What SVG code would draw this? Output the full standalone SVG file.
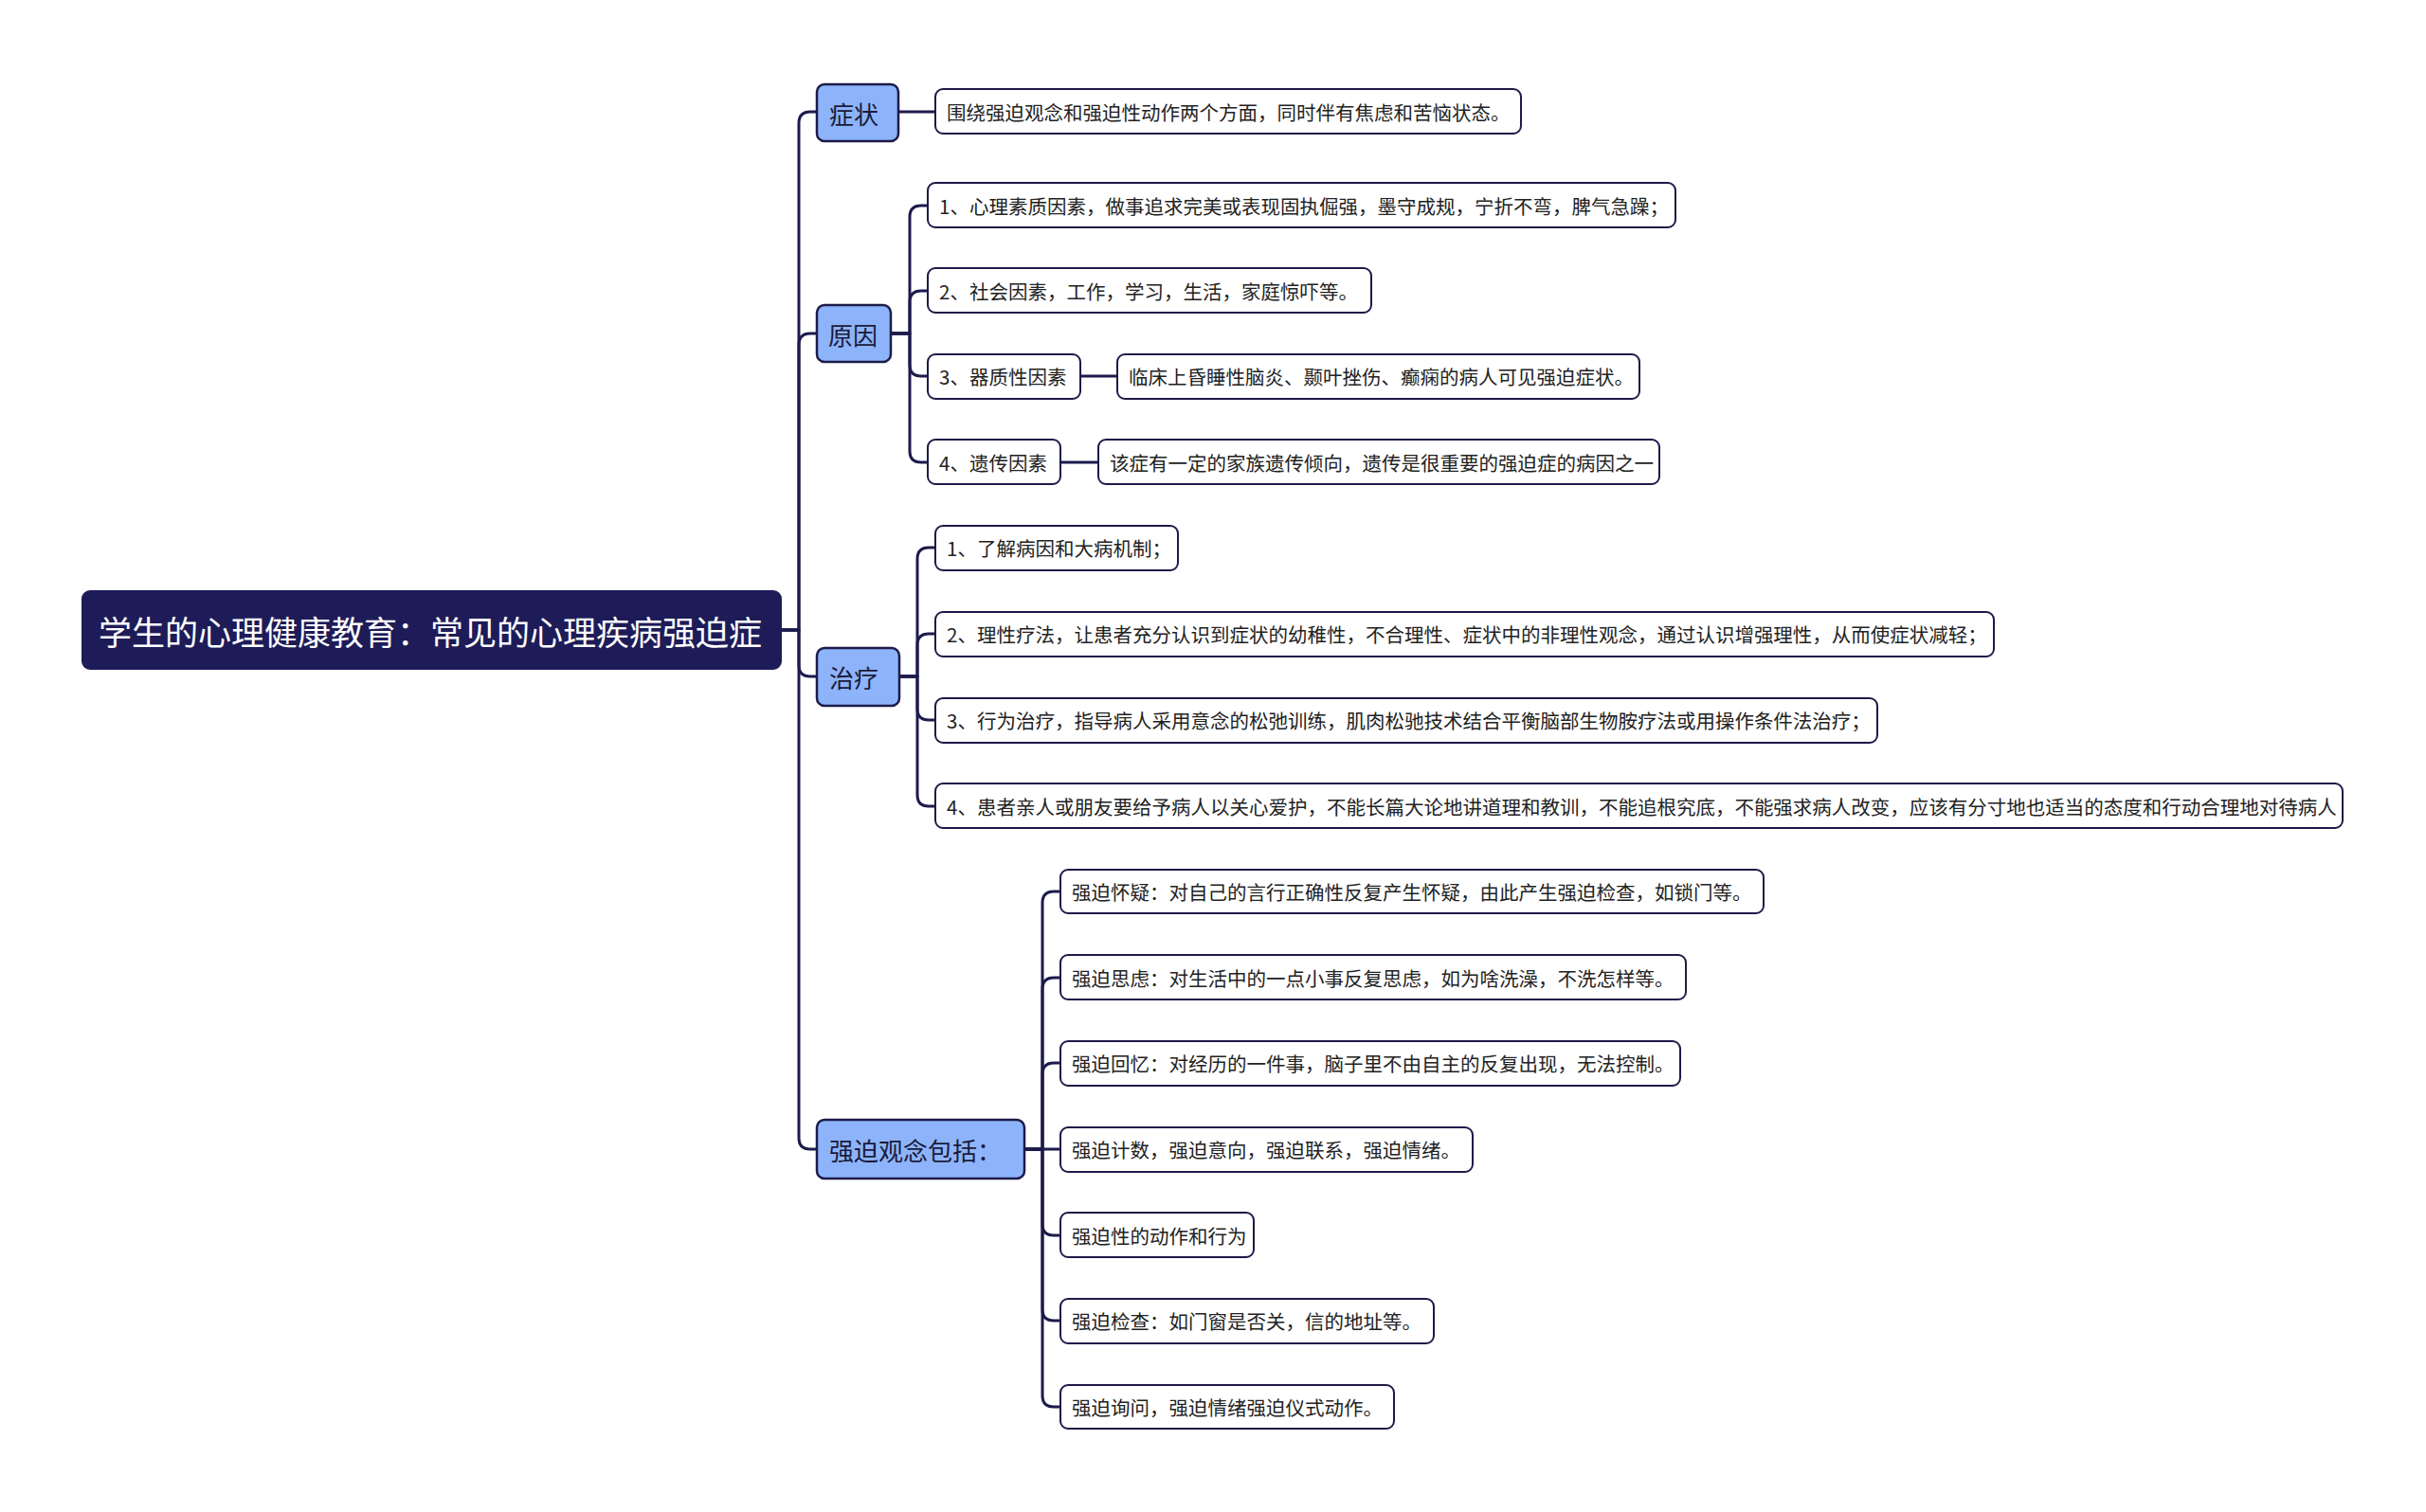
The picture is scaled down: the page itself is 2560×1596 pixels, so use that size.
<svg xmlns="http://www.w3.org/2000/svg" width="2560" height="1596" viewBox="0 0 2560 1596">
<style>
.root{fill:#1e1c58;stroke:#1e1c58;stroke-width:2}
.l1{fill:#8db4fa;stroke:#1d1b48;stroke-width:2.5}
.l2{fill:#ffffff;stroke:#1d1b48;stroke-width:2}
.c{fill:none;stroke:#1d1b4c;stroke-width:3;stroke-linecap:round;stroke-linejoin:round}
text{font-family:"Noto Sans CJK SC","Noto Sans",sans-serif;dominant-baseline:central}
.tr{fill:#ffffff;font-size:35px}
.t1{fill:#1a1a3a;font-size:26px}
.t2{fill:#222222;font-size:20.5px}
</style>
<rect width="2560" height="1596" fill="#ffffff"/>
<g id="connectors">
<path class="c" d="M824 665 H843 V130 Q843 118 855 118 H862"/>
<path class="c" d="M824 665 H843 V364 Q843 352 855 352 H862"/>
<path class="c" d="M824 665 H843 V702 Q843 714 855 714 H862"/>
<path class="c" d="M824 665 H843 V1201 Q843 1213 855 1213 H862"/>
<path class="c" d="M948 118 H987"/>
<path class="c" d="M940 352 H960 V229 Q960 217 972 217 H979"/>
<path class="c" d="M940 352 H960 V319 Q960 307 972 307 H979"/>
<path class="c" d="M940 352 H960 V385 Q960 397 972 397 H979"/>
<path class="c" d="M940 352 H960 V476 Q960 488 972 488 H979"/>
<path class="c" d="M1140 397 H1179"/>
<path class="c" d="M1119 488 H1159"/>
<path class="c" d="M948 714 H968 V590 Q968 578 980 578 H987"/>
<path class="c" d="M948 714 H968 V681 Q968 669 980 669 H987"/>
<path class="c" d="M948 714 H968 V748 Q968 760 980 760 H987"/>
<path class="c" d="M948 714 H968 V839 Q968 851 980 851 H987"/>
<path class="c" d="M1081 1213 H1100 V953 Q1100 941 1112 941 H1119"/>
<path class="c" d="M1081 1213 H1100 V1044 Q1100 1032 1112 1032 H1119"/>
<path class="c" d="M1081 1213 H1100 V1134 Q1100 1122 1112 1122 H1119"/>
<path class="c" d="M1081 1213 H1119"/>
<path class="c" d="M1081 1213 H1100 V1292 Q1100 1304 1112 1304 H1119"/>
<path class="c" d="M1081 1213 H1100 V1382 Q1100 1394 1112 1394 H1119"/>
<path class="c" d="M1081 1213 H1100 V1473 Q1100 1485 1112 1485 H1119"/>
</g>
<g id="root"><rect class="root" x="87" y="624" width="737" height="82" rx="8"/><text class="tr" x="104" y="665">学生的心理健康教育：常见的心理疾病强迫症</text></g>
<g id="n-zhengzhuang"><rect class="l1" x="862" y="89" width="86" height="60" rx="8"/><text class="t1" x="875" y="119">症状</text></g>
<g id="n-zhengzhuang-1"><rect class="l2" x="987" y="94" width="618" height="47" rx="8"/><text class="t2" x="999" y="118">围绕强迫观念和强迫性动作两个方面，同时伴有焦虑和苦恼状态。</text></g>
<g id="n-yuanyin"><rect class="l1" x="862" y="322" width="78" height="60" rx="8"/><text class="t1" x="874" y="352">原因</text></g>
<g id="n-yuanyin-1"><rect class="l2" x="979" y="193" width="789" height="47" rx="8"/><text class="t2" x="991" y="217">1、心理素质因素，做事追求完美或表现固执倔强，墨守成规，宁折不弯，脾气急躁；</text></g>
<g id="n-yuanyin-2"><rect class="l2" x="979" y="283" width="468" height="47" rx="8"/><text class="t2" x="991" y="307">2、社会因素，工作，学习，生活，家庭惊吓等。</text></g>
<g id="n-yuanyin-3"><rect class="l2" x="979" y="374" width="161" height="47" rx="8"/><text class="t2" x="991" y="397">3、器质性因素</text></g>
<g id="n-yuanyin-3-1"><rect class="l2" x="1179" y="374" width="551" height="47" rx="8"/><text class="t2" x="1191" y="397">临床上昏睡性脑炎、颞叶挫伤、癫痫的病人可见强迫症状。</text></g>
<g id="n-yuanyin-4"><rect class="l2" x="979" y="464" width="140" height="47" rx="8"/><text class="t2" x="991" y="488">4、遗传因素</text></g>
<g id="n-yuanyin-4-1"><rect class="l2" x="1159" y="464" width="592" height="47" rx="8"/><text class="t2" x="1171" y="488">该症有一定的家族遗传倾向，遗传是很重要的强迫症的病因之一</text></g>
<g id="n-zhiliao"><rect class="l1" x="862" y="684" width="87" height="61" rx="8"/><text class="t1" x="875" y="714">治疗</text></g>
<g id="n-zhiliao-1"><rect class="l2" x="987" y="555" width="256" height="47" rx="8"/><text class="t2" x="999" y="578">1、了解病因和大病机制；</text></g>
<g id="n-zhiliao-2"><rect class="l2" x="987" y="646" width="1117" height="47" rx="8"/><text class="t2" x="999" y="669">2、理性疗法，让患者充分认识到症状的幼稚性，不合理性、症状中的非理性观念，通过认识增强理性，从而使症状减轻；</text></g>
<g id="n-zhiliao-3"><rect class="l2" x="987" y="737" width="994" height="47" rx="8"/><text class="t2" x="999" y="760">3、行为治疗，指导病人采用意念的松弛训练，肌肉松驰技术结合平衡脑部生物胺疗法或用操作条件法治疗；</text></g>
<g id="n-zhiliao-4"><rect class="l2" x="987" y="827" width="1485" height="47" rx="8"/><text class="t2" x="999" y="851">4、患者亲人或朋友要给予病人以关心爱护，不能长篇大论地讲道理和教训，不能追根究底，不能强求病人改变，应该有分寸地也适当的态度和行动合理地对待病人</text></g>
<g id="n-qiangpo"><rect class="l1" x="862" y="1182" width="219" height="62" rx="8"/><text class="t1" x="875" y="1213">强迫观念包括：</text></g>
<g id="n-qiangpo-1"><rect class="l2" x="1119" y="918" width="742" height="46" rx="8"/><text class="t2" x="1131" y="941">强迫怀疑：对自己的言行正确性反复产生怀疑，由此产生强迫检查，如锁门等。</text></g>
<g id="n-qiangpo-2"><rect class="l2" x="1119" y="1008" width="660" height="47" rx="8"/><text class="t2" x="1131" y="1032">强迫思虑：对生活中的一点小事反复思虑，如为啥洗澡，不洗怎样等。</text></g>
<g id="n-qiangpo-3"><rect class="l2" x="1119" y="1099" width="654" height="47" rx="8"/><text class="t2" x="1131" y="1122">强迫回忆：对经历的一件事，脑子里不由自主的反复出现，无法控制。</text></g>
<g id="n-qiangpo-4"><rect class="l2" x="1119" y="1190" width="435" height="47" rx="8"/><text class="t2" x="1131" y="1213">强迫计数，强迫意向，强迫联系，强迫情绪。</text></g>
<g id="n-qiangpo-5"><rect class="l2" x="1119" y="1280" width="204" height="47" rx="8"/><text class="t2" x="1131" y="1304">强迫性的动作和行为</text></g>
<g id="n-qiangpo-6"><rect class="l2" x="1119" y="1371" width="394" height="47" rx="8"/><text class="t2" x="1131" y="1394">强迫检查：如门窗是否关，信的地址等。</text></g>
<g id="n-qiangpo-7"><rect class="l2" x="1119" y="1462" width="352" height="46" rx="8"/><text class="t2" x="1131" y="1485">强迫询问，强迫情绪强迫仪式动作。</text></g>
</svg>
